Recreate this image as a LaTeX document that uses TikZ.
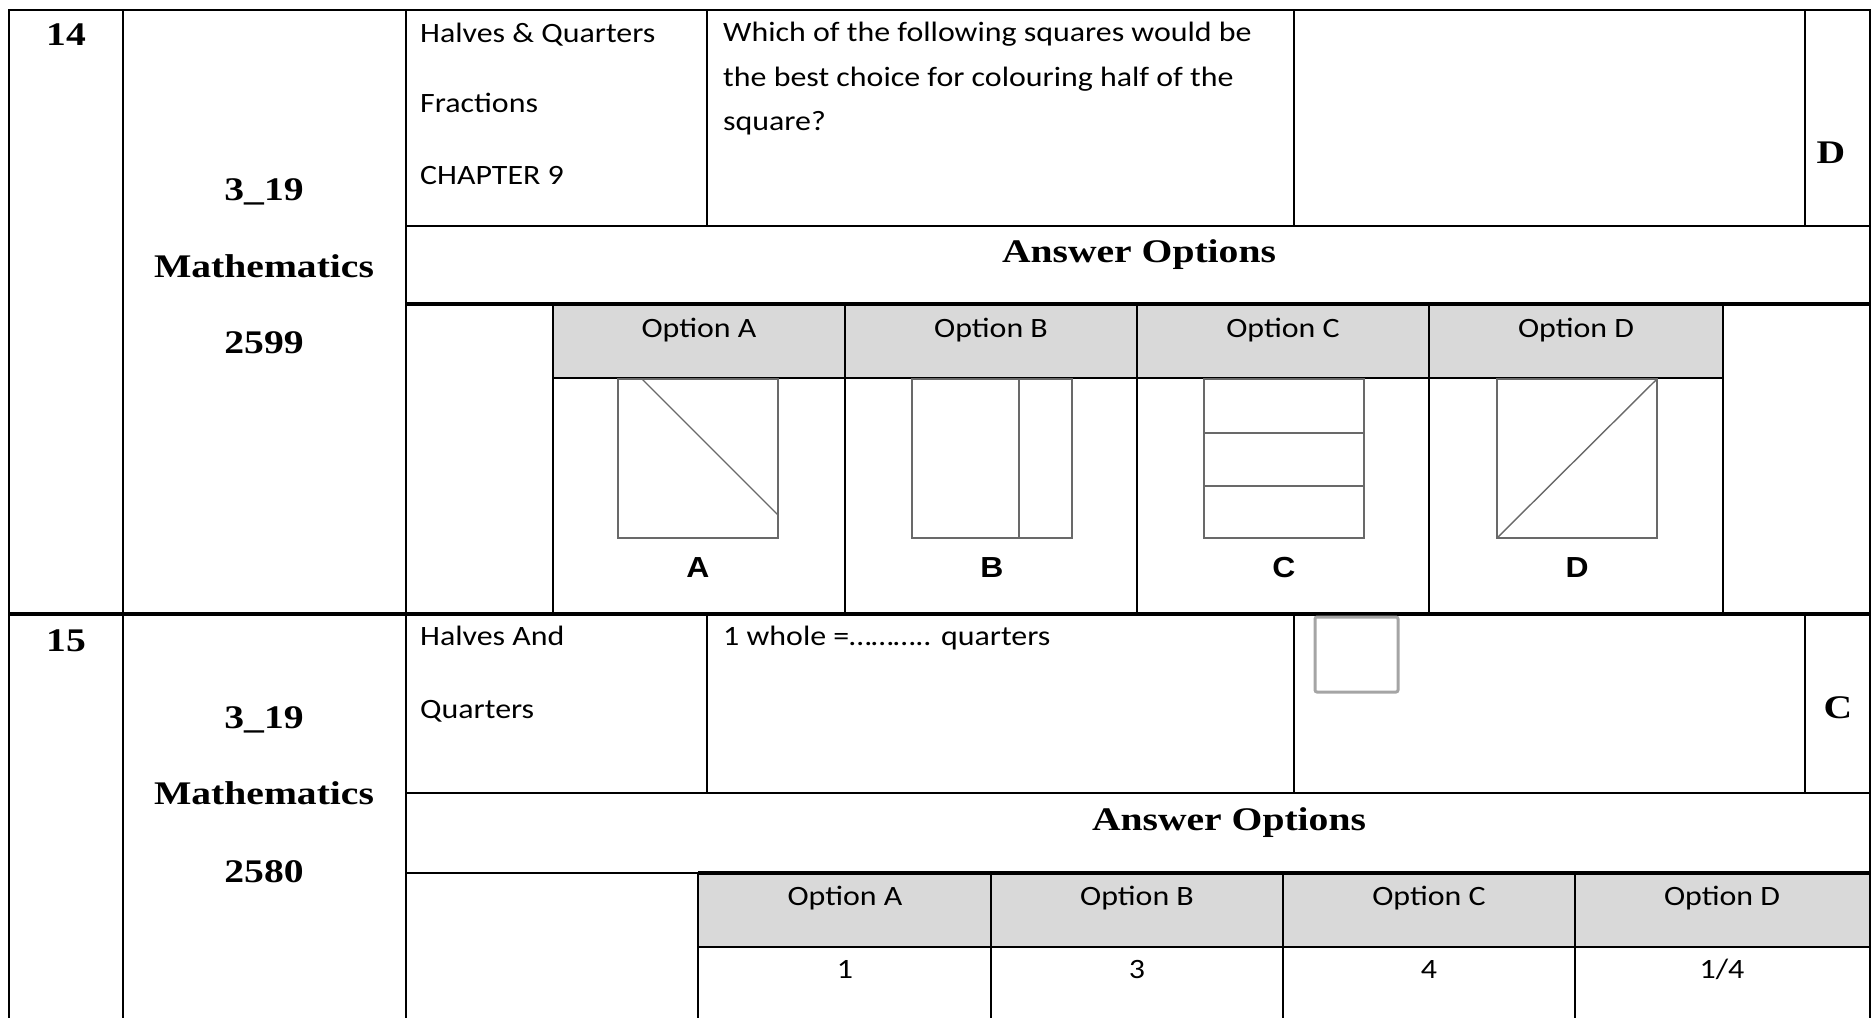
\documentclass[tikz,border=0pt]{standalone}
\usepackage{fontspec}
\setmainfont[FakeStretch=1.14]{Carlito}
\newfontfamily\headfont[FakeStretch=1.2]{Liberation Serif}
\newfontfamily\labfont[FakeStretch=1.1]{Liberation Sans}
\usepackage{tikz}
\usetikzlibrary{positioning}
\definecolor{hdrgray}{RGB}{217,217,217}
\definecolor{figgray}{RGB}{105,105,105}
\definecolor{boxgray}{RGB}{165,165,165}
\tikzstyle{tabline}=[draw,line width=2pt]
\tikzstyle{heavyline}=[draw,line width=3.6pt]
\tikzstyle{bodytext}=[inner sep=0pt,font=\fontsize{28}{34}\selectfont]
\tikzstyle{boldtext}=[inner sep=0pt,font=\headfont\bfseries\fontsize{33}{40}\selectfont]
\tikzstyle{figlabel}=[inner sep=0pt,font=\labfont\bfseries\fontsize{29}{34}\selectfont]
\tikzstyle{figline}=[draw=figgray,line width=1.4pt]

\begin{document}
\begin{tikzpicture}[x=1pt,y=-1pt]
    \useasboundingbox (0,0) rectangle (1876,1018);
    \fill[hdrgray] (553,305) rectangle (1723,378);
    \fill[hdrgray] (698,873) rectangle (1870,947);
    \foreach \x in {9,123,406,1870}
      \draw[tabline] (\x,9) -- (\x,1018);
    \draw[tabline] (8,10) -- (1871,10);
    \foreach \x in {707,1294,1805} {
      \draw[tabline] (\x,10) -- (\x,226);
      \draw[tabline] (\x,614) -- (\x,793);
    }
    \draw[tabline] (406,226) -- (1870,226);
    \draw[heavyline] (406,304) -- (1870,304);
    \draw[tabline] (553,378) -- (1723,378);
    \foreach \x in {553,845,1137,1429,1723}
      \draw[tabline] (\x,304) -- (\x,613);
    \draw[heavyline] (8,614) -- (1871,614);
    \draw[tabline] (406,793) -- (1870,793);
    \draw[tabline] (406,873) -- (1870,873);
    \draw[heavyline] (698,873) -- (1870,873);
    \draw[tabline] (698,947) -- (1870,947);
    \foreach \x in {698,991,1283,1575}
      \draw[tabline] (\x,873) -- (\x,1018);

    \node[boldtext,anchor=base] (num14) at (66,45) {14};
    \node[boldtext,anchor=base] (grade14) at (264,200) {3\_19};
    \node[boldtext,anchor=base] (subj14) at (264,277) {Mathematics};
    \node[boldtext,anchor=base] (code14) at (264,353) {2599};
    \node[bodytext,anchor=base west] (topic14a) at (420,42) {Halves \& Quarters};
    \node[bodytext,anchor=base west] (topic14b) at (420,112) {Fractions};
    \node[bodytext,anchor=base west] (topic14c) at (420,184) {CHAPTER 9};
    \node[bodytext,anchor=base west] (quest14a) at (723,41) {Which of the following squares would be};
    \node[bodytext,anchor=base west] (quest14b) at (723,86) {the best choice for colouring half of the};
    \node[bodytext,anchor=base west] (quest14c) at (723,130) {square?};
    \node[boldtext,anchor=base] (key14) at (1831,163) {D};
    \node[boldtext,anchor=base] (ans14) at (1139,262) {Answer Options};
    \foreach \x/\l in {699/A,991/B,1283/C,1576/D}
      \node[bodytext,anchor=base] (opt14\l) at (\x,337) {Option \l};
    \foreach \x/\l in {618/A,912/B,1204/C,1497/D} {
      \draw[figline] (\x,379) rectangle ++(160,159);
      \node[figlabel,anchor=base] (fig\l) at (\x+80,577) {\l};
    }
    \draw[figline] (642,379) -- (778,515);
    \draw[figline] (1019,379) -- (1019,538);
    \draw[figline] (1204,433) -- (1364,433);
    \draw[figline] (1204,486) -- (1364,486);
    \draw[figline] (1497,538) -- (1657,379);

    \node[boldtext,anchor=base] (num15) at (66,651) {15};
    \node[boldtext,anchor=base] (grade15) at (264,728) {3\_19};
    \node[boldtext,anchor=base] (subj15) at (264,804) {Mathematics};
    \node[boldtext,anchor=base] (code15) at (264,882) {2580};
    \node[bodytext,anchor=base west] (topic15a) at (420,645) {Halves And};
    \node[bodytext,anchor=base west] (topic15b) at (420,718) {Quarters};
    \node[bodytext,anchor=base west] (quest15) at (723,645) {1 whole =……….. quarters};
    \draw[draw=boxgray,line width=3pt,rounded corners=2pt,fill=white] (1315,617) rectangle (1398,692);
    \node[boldtext,anchor=base] (key15) at (1838,718) {C};
    \node[boldtext,anchor=base] (ans15) at (1229,830) {Answer Options};
    \foreach \x/\l/\v in {845/A/1,1137/B/3,1429/C/4,1722/D/{1/4}} {
      \node[bodytext,anchor=base] (opt15\l) at (\x,905) {Option \l};
      \node[bodytext,anchor=base] (val15\l) at (\x,978) {\v};
    }
\end{tikzpicture}
\end{document}
